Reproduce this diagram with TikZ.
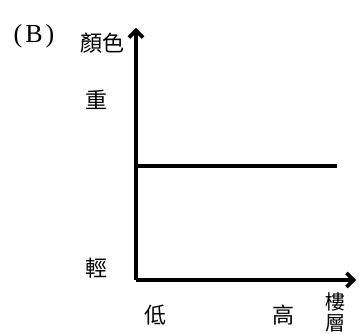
\documentclass[tikz,border=0pt]{standalone}
\usepackage{fontspec}
\setmainfont{Liberation Serif}
\newfontfamily\cjk{Noto Sans CJK TC}
\usetikzlibrary{arrows.meta}
\tikzset{
  axis/.style={line width=4pt, -{Straight Barb[length=7pt,width=14pt,line width=3.6pt]}},
  level/.style={line width=3.2pt},
  lbl/.style={inner sep=0pt, font=\cjk\fontsize{22}{24}\selectfont},
  small/.style={inner sep=0pt, font=\cjk\fontsize{20}{22}\selectfont},
  tag/.style={inner sep=0pt, font=\fontsize{26}{28}\selectfont},
}
\begin{document}
\begin{tikzpicture}[x=1pt,y=-1pt]
\useasboundingbox (0,0) rectangle (359,334);
\coordinate (O) at (136,280);
\coordinate (ytop) at (136,28);
\coordinate (xend) at (356,280);
\coordinate (hl) at (136,166);
\coordinate (hr) at (337,166);
\draw[axis] (O) -- (ytop);
\draw[axis] (O) -- (xend);
\draw[level] (hl) -- (hr);
\node[tag] (B) at (34,36) {(\hspace{3pt}B\hspace{3pt})};
\node[lbl] (ylab) at (102,43) {顏色};
\node[lbl] (heavy) at (96,100) {重};
\node[lbl] (light) at (96,268) {輕};
\node[lbl] (low) at (155,315) {低};
\node[lbl] (high) at (283,315) {高};
\node[small] (xlab1) at (335,302) {樓};
\node[small] (xlab2) at (335,323) {層};
\end{tikzpicture}
\end{document}
